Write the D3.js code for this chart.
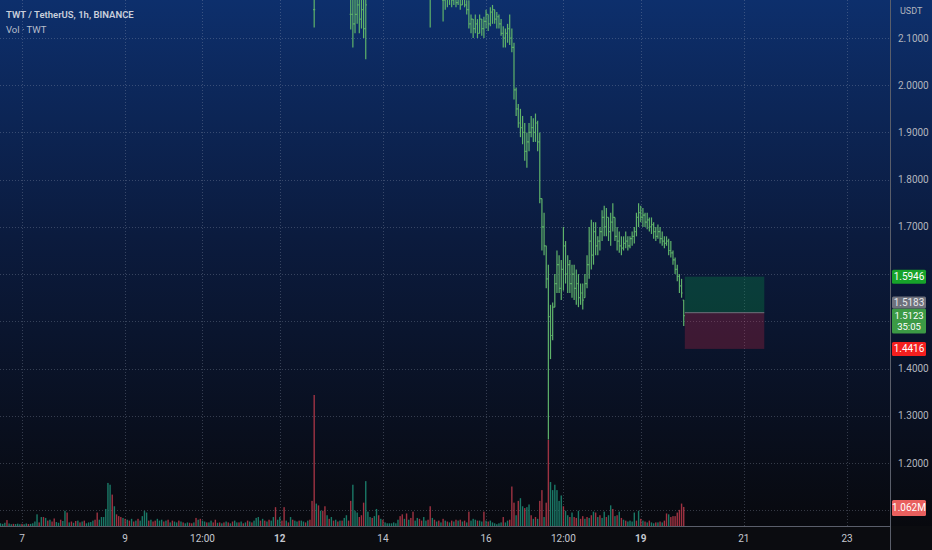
<!DOCTYPE html>
<html>
<head>
<meta charset="utf-8">
<script src="https://cdn.jsdelivr.net/npm/d3@7"></script>
<style>
  body { margin: 0; background: #0b0c10; overflow: hidden; }
  text { font-family: Roboto, "Noto Sans", sans-serif; }
</style>
</head>
<body>
<div id="chart"></div>
<script>
// Hour index 0 = day 7 00:00, one bar per hour
const tickHours  = [0, 48, 84, 120, 168, 216, 252, 288, 336, 384];
const tickLabels = ["7", "9", "12:00", "12", "14", "16", "12:00", "19", "21", "23"];
const boldLabels = ["12", "19"];
const priceTicks = [1.1, 1.2, 1.3, 1.4, 1.5, 1.6, 1.7, 1.8, 1.9, 2.0, 2.1];

// price bars, first entry is hour 136; null = bar above the visible range
const priceStart = 136;
const highs = [
  2.25,
  null, null, null, null, null, null, null, null, null, null, null, null, null, null, null, null,
  2.22, 2.20, 2.20, 2.21, 2.20, 2.21, 2.20, 2.19,
  null, null, null, null, null, null, null, null, null, null, null, null, null, null, null,
  null, null, null, null, null, null, null, null, null, null, null, null, null, null,
  2.24,
  null, null, null, null, null,
  2.22, 2.21, 2.21, 2.22, 2.21, 2.21, 2.20, 2.21, 2.20, 2.20, 2.19, 2.18,
  2.18, 2.15, 2.14, 2.15, 2.14, 2.15, 2.14, 2.145, 2.16, 2.15, 2.165, 2.17,
  2.16, 2.155, 2.15, 2.14, 2.125, 2.12, 2.13, 2.15, 2.12, 2.09, 1.995, 1.96,
  1.95, 1.935, 1.92, 1.90, 1.92, 1.935, 1.93, 1.94, 1.925, 1.90, 1.76, 1.73,
  1.66, 1.62, 1.535, 1.54, 1.60, 1.65, 1.64, 1.63, 1.70, 1.67, 1.64, 1.63,
  1.62, 1.62, 1.61, 1.60, 1.58, 1.58, 1.60, 1.64, 1.70, 1.715, 1.71, 1.71,
  1.68, 1.70, 1.735, 1.745, 1.74, 1.72, 1.73, 1.75, 1.72, 1.70, 1.69, 1.68,
  1.68, 1.69, 1.68, 1.68, 1.69, 1.70, 1.73, 1.75, 1.745, 1.74, 1.73, 1.73,
  1.72, 1.72, 1.71, 1.70, 1.705, 1.70, 1.69, 1.68, 1.68, 1.675, 1.67, 1.65,
  1.635, 1.62, 1.60, 1.59, 1.545
];
const lows = [
  2.122,
  null, null, null, null, null, null, null, null, null, null, null, null, null, null, null, null,
  2.118, 2.08, 2.11, 2.13, 2.11, 2.12, 2.10, 2.055,
  null, null, null, null, null, null, null, null, null, null, null, null, null, null, null,
  null, null, null, null, null, null, null, null, null, null, null, null, null, null,
  2.122,
  null, null, null, null, null,
  2.135, 2.16, 2.165, 2.17, 2.165, 2.17, 2.165, 2.17, 2.16, 2.17, 2.165, 2.15,
  2.12, 2.11, 2.10, 2.11, 2.10, 2.11, 2.105, 2.10, 2.12, 2.115, 2.125, 2.13,
  2.13, 2.12, 2.12, 2.105, 2.08, 2.08, 2.09, 2.085, 2.07, 1.97, 1.935, 1.91,
  1.89, 1.875, 1.84, 1.825, 1.86, 1.89, 1.88, 1.88, 1.86, 1.75, 1.65, 1.64,
  1.57, 1.25, 1.42, 1.46, 1.53, 1.56, 1.56, 1.545, 1.565, 1.58, 1.56, 1.56,
  1.55, 1.545, 1.535, 1.53, 1.535, 1.525, 1.55, 1.57, 1.59, 1.61, 1.62, 1.64,
  1.64, 1.65, 1.67, 1.68, 1.68, 1.67, 1.66, 1.69, 1.67, 1.65, 1.645, 1.64,
  1.65, 1.655, 1.65, 1.655, 1.66, 1.665, 1.68, 1.70, 1.71, 1.70, 1.70, 1.695,
  1.69, 1.685, 1.675, 1.67, 1.675, 1.665, 1.66, 1.655, 1.66, 1.64, 1.635, 1.62,
  1.60, 1.585, 1.56, 1.55, 1.49
];
const closes = [
  2.16,
  null, null, null, null, null, null, null, null, null, null, null, null, null, null, null, null,
  2.15, 2.13, 2.15, 2.17, 2.14, 2.16, 2.12, 2.17,
  null, null, null, null, null, null, null, null, null, null, null, null, null, null, null,
  null, null, null, null, null, null, null, null, null, null, null, null, null, null,
  2.19,
  null, null, null, null, null,
  2.18, 2.185, 2.19, 2.20, 2.18, 2.19, 2.175, 2.19, 2.17, 2.185, 2.17, 2.16,
  2.13, 2.14, 2.12, 2.13, 2.11, 2.14, 2.12, 2.135, 2.15, 2.13, 2.155, 2.16,
  2.14, 2.145, 2.13, 2.11, 2.10, 2.11, 2.12, 2.10, 2.08, 1.99, 1.95, 1.92,
  1.91, 1.90, 1.86, 1.88, 1.90, 1.91, 1.90, 1.92, 1.88, 1.76, 1.70, 1.66,
  1.59, 1.51, 1.47, 1.53, 1.58, 1.62, 1.57, 1.61, 1.66, 1.60, 1.62, 1.58,
  1.60, 1.57, 1.58, 1.55, 1.56, 1.545, 1.58, 1.62, 1.67, 1.64, 1.69, 1.66,
  1.67, 1.69, 1.72, 1.70, 1.72, 1.69, 1.71, 1.72, 1.68, 1.67, 1.66, 1.655,
  1.665, 1.67, 1.66, 1.675, 1.68, 1.69, 1.72, 1.73, 1.72, 1.725, 1.71, 1.715,
  1.70, 1.705, 1.69, 1.68, 1.69, 1.675, 1.67, 1.665, 1.67, 1.65, 1.645, 1.63,
  1.61, 1.595, 1.575, 1.56, 1.5123
];

// volume in millions, first entry is hour -10; negative = down bar
const volStart = -10;
const volumes = [
  0.15, 0.12, 0.18, -0.33, 0.14, 0.10, -0.12, 0.11, 0.13, 0.10,
  -0.12, 0.10, 0.14, -0.11, 0.12, 0.15, 0.25, 0.65, -0.2, 0.5, -0.5, 0.45, -0.3, 0.35, -0.25, -0.42, 0.22, 0.18, -0.35, 0.28, 0.85, -0.75, 0.2, -0.25,
  0.18, -0.28, 0.3, -0.2, 0.25, -0.3, 0.15, 0.2, 0.22, 0.3, -0.35, -0.75, 0.35, 0.5, 0.5, 0.95, 2.4, 2.3, -1.75, 1.1, -0.65, -0.55, -0.5, 0.45,
  -0.4, 0.35, -0.3, 0.4, -0.25, 0.3, -0.4, 0.3, 0.55, 0.85, 0.75, -0.3, 0.35, -0.25, -0.3, 0.4, 0.3, 0.35, -0.25, 0.3, -0.35, 0.2, -0.3, 0.25,
  0.2, -0.3, 0.25, -0.2, 0.15, 0.2, -0.18, -0.15, 0.2, -0.45, 0.35, -0.4, 0.3, 0.25, -0.2, 0.2, 0.3, -0.2, -0.35, 0.18, -0.2, 0.15, -0.2, 0.25,
  -0.2, 0.15, -0.25, 0.3, 0.2, -0.2, 0.25, -0.15, 0.2, -0.3, 0.25, -0.2, 0.3, 0.45, 0.5, -0.3, 0.4, -0.3, 0.25, -0.35, 0.3, 0.5, -1.05, 0.35,
  0.5, -0.3, -1.05, 0.3, -0.2, 0.5, -0.35, 0.3, 0.25, -0.3, 0.3, 0.25, -0.2, 0.3, -0.35, -1.4, -7.3, 1.25, -1.15, 0.85, -0.85, -1.1, 0.6, -0.4,
  0.5, -0.3, 0.35, -0.25, 0.3, -0.3, 0.45, 0.6, -0.3, -1.4, 2.3, 0.85, 0.75, -0.5, -0.6, -1.3, 2.5, 0.8, 0.5, -0.45, 0.55, 0.95, -0.6, 0.4,
  -0.35, 0.2, 0.15, 0.15, 0.15, 0.2, 0.15, 0.35, -0.55, -0.65, 0.4, -0.7, 0.35, -0.45, -0.8, 0.3, 0.45, -0.4, -0.3, 0.5, 0.3, -0.35, -1.1, 0.45,
  -0.35, 0.25, -0.3, 0.2, -0.4, 0.3, -0.25, 0.2, -0.3, 0.25, -0.35, 0.3, -0.35, 0.25, -0.3, 0.2, -0.8, 0.3, 0.4, 0.35, -0.3, 0.3, 0.25, -0.8,
  0.3, -0.25, 0.3, 0.2, 0.15, 0.1, 0.15, 0.2, -0.5, 0.2, 0.3, -0.35, -2.2, -1.3, 0.6, -1.4, 1.55, 1.1, -1.0, 1.05, 1.2, -0.6, 0.4, -0.5,
  0.4, -1.4, -2.0, 0.5, -1.3, -4.8, 2.45, 2.0, 2.3, 2.0, 1.4, 1.7, -1.1, 0.85, 0.6, -0.5, 0.75, -0.5, -0.45, 0.85, -0.4, -0.55, 0.4, -0.5,
  0.45, -0.6, 0.8, -0.75, 0.5, -0.6, 0.45, 0.8, -0.5, 0.6, 1.15, -0.95, 0.55, -0.6, 0.8, -0.45, 0.35, -0.3, 0.25, 0.3, 0.25, 0.75, -0.3, 0.85,
  -0.4, 0.3, -0.25, 0.2, -0.3, 0.2, 0.15, -0.2, 0.2, -0.25, 0.2, -0.3, -0.7, 0.65, -0.5, -0.55, -0.55, -0.75, -0.9, -1.25, -1.062
];

// long position tool
const positionHours = [308.5, 345.5];
const targetPrice = 1.5946;
const entryPrice = 1.5183;
const stopPrice = 1.4416;
const lastPrice = 1.5123;
const countdown = "35:05";
const lastVolume = 1.062;
const lastVolumeLabel = "1.062M";

const W = 932, H = 550;
const plotRight = 890, plotBottom = 526;

const svg = d3.select("#chart").append("svg")
    .attr("width", W)
    .attr("height", H);

// background gradient
const defs = svg.append("defs");
const grad = defs.append("linearGradient")
    .attr("id", "bg")
    .attr("x1", 0).attr("y1", 0).attr("x2", 0).attr("y2", 1);
grad.append("stop").attr("offset", "0%").attr("stop-color", "#0d2f6c");
grad.append("stop").attr("offset", "45%").attr("stop-color", "#0b1b3e");
grad.append("stop").attr("offset", "100%").attr("stop-color", "#08090e");

defs.append("clipPath").attr("id", "plot")
    .append("rect").attr("x", 0).attr("y", 0)
    .attr("width", plotRight).attr("height", plotBottom);

svg.append("rect")
    .attr("width", W).attr("height", plotBottom)
    .attr("fill", "url(#bg)");
svg.append("rect")
    .attr("y", plotBottom).attr("width", W).attr("height", H - plotBottom)
    .attr("fill", "#0b0c10");

// scales
const xScale = d3.scaleLinear().domain([0, 384]).range([22, 847]);
const yScale = d3.scaleLinear().domain([1.2, 2.1]).range([463, 38]);
const yVol = d3.scaleLinear()
    .domain([0, d3.max(volumes, v => Math.abs(v))])
    .range([plotBottom, 395]);

// grid
const grid = svg.append("g").attr("clip-path", "url(#plot)");
grid.selectAll(".hgrid")
    .data(priceTicks)
    .join("line")
    .attr("x1", 0).attr("x2", plotRight)
    .attr("y1", d => Math.round(yScale(d)) + 0.5)
    .attr("y2", d => Math.round(yScale(d)) + 0.5)
    .attr("stroke", "rgba(160,170,190,0.3)")
    .attr("stroke-dasharray", "1,2");
grid.selectAll(".vgrid")
    .data(tickHours)
    .join("line")
    .attr("y1", 0).attr("y2", plotBottom)
    .attr("x1", d => Math.round(xScale(d)) + 0.5)
    .attr("x2", d => Math.round(xScale(d)) + 0.5)
    .attr("stroke", "rgba(160,170,190,0.3)")
    .attr("stroke-dasharray", "1,2");

// volume bars
const volData = volumes.map((v, i) => ({ h: volStart + i, v: Math.abs(v), down: v < 0 }));
svg.append("g")
    .attr("clip-path", "url(#plot)")
    .selectAll("rect")
    .data(volData)
    .join("rect")
    .attr("x", d => xScale(d.h) - 0.7)
    .attr("width", 1.4)
    .attr("y", d => yVol(d.v))
    .attr("height", d => plotBottom - yVol(d.v))
    .attr("fill", d => d.down ? "#b8394a" : "#1d8c76")
    .attr("opacity", 0.85);

// position tool
const px0 = xScale(positionHours[0]), px1 = xScale(positionHours[1]);
svg.append("rect")
    .attr("x", px0).attr("width", px1 - px0)
    .attr("y", yScale(targetPrice))
    .attr("height", yScale(entryPrice) - yScale(targetPrice))
    .attr("fill", "rgba(10,150,70,0.3)");
svg.append("rect")
    .attr("x", px0).attr("width", px1 - px0)
    .attr("y", yScale(entryPrice))
    .attr("height", yScale(stopPrice) - yScale(entryPrice))
    .attr("fill", "rgba(220,40,70,0.25)");
svg.append("line")
    .attr("x1", px0).attr("x2", px1)
    .attr("y1", yScale(entryPrice)).attr("y2", yScale(entryPrice))
    .attr("stroke", "#6f727d").attr("stroke-width", 1);

// price bars (OHLC)
const bars = [];
highs.forEach((hi, i) => {
    if (hi === null) return;
    const prev = i > 0 ? closes[i - 1] : null;
    let open = prev === null ? closes[i] : prev;
    open = Math.max(lows[i], Math.min(hi, open));
    bars.push({ h: priceStart + i, high: hi, low: lows[i], open: open, close: closes[i] });
});

const barG = svg.append("g")
    .attr("clip-path", "url(#plot)")
    .attr("stroke", "#5fb36a")
    .attr("stroke-width", 1.2);
barG.selectAll(".hl")
    .data(bars)
    .join("line")
    .attr("x1", d => xScale(d.h))
    .attr("x2", d => xScale(d.h))
    .attr("y1", d => yScale(d.high))
    .attr("y2", d => yScale(d.low));
barG.selectAll(".op")
    .data(bars)
    .join("line")
    .attr("x1", d => xScale(d.h) - 1)
    .attr("x2", d => xScale(d.h))
    .attr("y1", d => yScale(d.open))
    .attr("y2", d => yScale(d.open));
barG.selectAll(".cl")
    .data(bars)
    .join("line")
    .attr("x1", d => xScale(d.h))
    .attr("x2", d => xScale(d.h) + 1)
    .attr("y1", d => yScale(d.close))
    .attr("y2", d => yScale(d.close));

// axis borders
svg.append("line")
    .attr("x1", plotRight + 0.5).attr("x2", plotRight + 0.5)
    .attr("y1", 0).attr("y2", H)
    .attr("stroke", "#5a5e6a");
svg.append("line")
    .attr("x1", 0).attr("x2", plotRight)
    .attr("y1", plotBottom + 0.5).attr("y2", plotBottom + 0.5)
    .attr("stroke", "#5a5e6a");

// tag positions on the price axis
const lastTop = yScale(lastPrice) - 7;
const tags = [
    { y: yScale(targetPrice), h: 14, fill: "#17a32a", lines: [targetPrice.toFixed(4)] },
    { y: lastTop + 12.5, h: 25, fill: "#3c9a45", lines: [lastPrice.toFixed(4), countdown] },
    { y: Math.min(yScale(entryPrice), lastTop - 6), h: 12, fill: "#6e717c", lines: [entryPrice.toFixed(4)], color: "#e6e7ea" },
    { y: yScale(stopPrice), h: 14, fill: "#f41f1f", lines: [stopPrice.toFixed(4)] },
    { y: yVol(lastVolume) + 1, h: 16, fill: "#e9605e", lines: [lastVolumeLabel] }
];

// price axis labels, hidden where a tag covers them
const freeTicks = priceTicks.filter(p =>
    tags.every(t => Math.abs(yScale(p) - t.y) > t.h / 2 + 6));
svg.append("g")
    .selectAll("text")
    .data(freeTicks)
    .join("text")
    .attr("x", 898)
    .attr("y", d => yScale(d) + 3.5)
    .attr("fill", "#b2b5be")
    .attr("font-size", "10px")
    .text(d => d.toFixed(4));
svg.append("text")
    .attr("x", 900).attr("y", 14)
    .attr("fill", "#b2b5be")
    .attr("font-size", "9px")
    .text("USDT");

// time axis labels
svg.append("g")
    .selectAll("text")
    .data(tickHours)
    .join("text")
    .attr("x", d => xScale(d))
    .attr("y", 542)
    .attr("text-anchor", "middle")
    .attr("fill", "#c4c7cf")
    .attr("font-size", "10px")
    .attr("font-weight", (d, i) => boldLabels.includes(tickLabels[i]) ? 700 : 400)
    .text((d, i) => tickLabels[i]);

// price tags
tags.forEach(t => {
    const g = svg.append("g");
    g.append("rect")
        .attr("x", 892).attr("y", t.y - t.h / 2)
        .attr("width", 34).attr("height", t.h)
        .attr("rx", 1.5)
        .attr("fill", t.fill);
    const step = t.lines.length > 1 ? 11 : 0;
    const first = t.y - step / 2 + 3.5;
    t.lines.forEach((s, k) => {
        g.append("text")
            .attr("x", 909)
            .attr("y", first + k * step)
            .attr("text-anchor", "middle")
            .attr("fill", t.color || "#ffffff")
            .attr("font-size", t.lines.length > 1 ? "9.5px" : "10px")
            .text(s);
    });
});

// legend
svg.append("text")
    .attr("x", 6).attr("y", 18)
    .attr("fill", "#c9cfdb")
    .attr("font-size", "9.5px")
    .attr("font-weight", 600)
    .text("TWT / TetherUS, 1h, BINANCE");
svg.append("text")
    .attr("x", 6).attr("y", 33)
    .attr("fill", "#b8bfcc")
    .attr("font-size", "9.5px")
    .text("Vol · TWT");
</script>
</body>
</html>
